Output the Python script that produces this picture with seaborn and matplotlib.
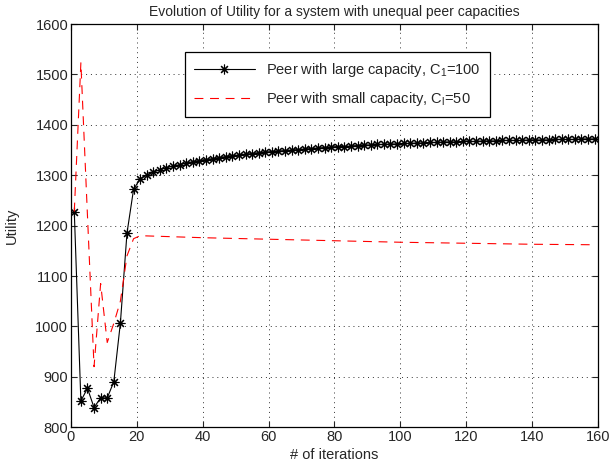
import matplotlib
matplotlib.use("Agg")
import matplotlib.pyplot as plt
import seaborn as sns
import pandas as pd

# iterations (odd steps) and utility of the peer with large capacity
large_iter = list(range(1, 160, 2))
large_utility = [
    1228, 852, 877, 839, 858, 858, 890, 1007, 1185, 1272,
    1293, 1300, 1306, 1311, 1315, 1318, 1321, 1324, 1327, 1329,
    1331, 1333, 1335, 1337, 1339, 1340, 1342, 1343, 1345, 1346,
    1347, 1348, 1349, 1350, 1351, 1352, 1353, 1354, 1355, 1356,
    1357, 1357, 1358, 1359, 1360, 1360, 1361, 1361, 1362, 1362,
    1363, 1363, 1364, 1364, 1365, 1365, 1366, 1366, 1366, 1367,
    1367, 1367, 1368, 1368, 1368, 1369, 1369, 1369, 1369, 1370,
    1370, 1370, 1370, 1371, 1371, 1371, 1371, 1372, 1372, 1372,
]

# peer with small capacity (dashed, no markers)
small_iter = [1, 3, 5, 7, 9, 11, 13, 15, 17, 19, 21, 40, 60, 80, 100, 120, 140, 159]
small_utility = [1228, 1523, 1220, 920, 1085, 968, 1006, 1050, 1140, 1174, 1180,
                 1176, 1173, 1170, 1167, 1165, 1163, 1162]

large_label = "Peer with large capacity, C$_1$=100"
small_label = "Peer with small capacity, C$_l$=50"

df_large = pd.DataFrame({"iter": large_iter, "utility": large_utility})
df_small = pd.DataFrame({"iter": small_iter, "utility": small_utility})

sns.set_style("white")
plt.rcParams['font.family'] = ['Liberation Sans', 'DejaVu Sans']
plt.rcParams['mathtext.fontset'] = 'custom'
plt.rcParams['mathtext.rm'] = 'Liberation Sans'
plt.rcParams['mathtext.it'] = 'Liberation Sans'

fig = plt.figure(figsize=(6.12, 4.72), dpi=100)
ax = fig.add_axes([0.116, 0.095, 0.861, 0.854])

sns.lineplot(data=df_large, x="iter", y="utility", ax=ax, color="k",
             linewidth=0.8, marker=(8, 2, 0), markersize=7,
             markeredgecolor="k", markeredgewidth=0.8, label=large_label)
sns.lineplot(data=df_small, x="iter", y="utility", ax=ax, color="#ff0000",
             linewidth=0.8, linestyle=(0, (8, 6)), label=small_label)

ax.set_xlim(0, 160)
ax.set_ylim(800, 1600)
ax.set_xticks(range(0, 161, 20))
ax.set_yticks(range(800, 1601, 100))
ax.grid(True, linestyle=(0, (1, 4)), color="#333333", linewidth=0.7)
ax.tick_params(direction="in", length=4, width=0.8, labelsize=10.5,
               top=True, right=True, bottom=True, left=True, pad=2)
for s in ax.spines.values():
    s.set_color("k")
    s.set_linewidth(0.9)

ax.set_title("Evolution of Utility for a system with unequal peer capacities",
             fontsize=10, pad=6)
ax.set_xlabel("# of iterations", fontsize=10.5, labelpad=3)
ax.set_ylabel("Utility", fontsize=10.5, labelpad=12)

leg = ax.legend(loc="upper left", bbox_to_anchor=(0.216, 0.930), borderaxespad=0,
                fontsize=10.5, fancybox=False, framealpha=1, edgecolor="k",
                handlelength=4.2, borderpad=0.6, labelspacing=0.75)
leg.get_frame().set_linewidth(0.9)

fig.savefig("out.png", dpi=100)
